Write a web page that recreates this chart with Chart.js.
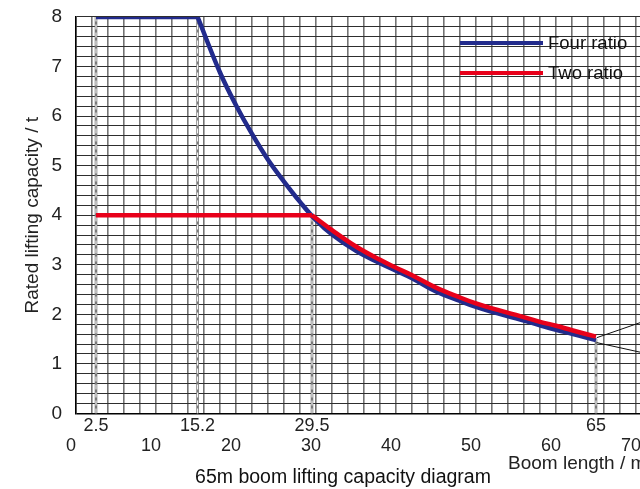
<!DOCTYPE html>
<html><head><meta charset="utf-8">
<script src="https://cdn.jsdelivr.net/npm/chart.js@4"></script>
<style>
html,body{margin:0;padding:0;background:#fff;overflow:hidden;width:640px;height:489px;}
#wrap{position:relative;width:686px;height:489px;}
</style></head><body>
<div id="wrap"><canvas id="c"></canvas></div>
<script>
// ---- data ----
const fourRatioFlatX = [2.5, 15.2];
const fourRatioFlatY = [8, 8];
const fourRatioX = [15.2, 18, 20, 22, 24, 26, 28, 30, 32, 35, 38, 40, 42, 45, 48, 50, 52, 55, 58, 60, 62, 65];
const fourRatioY = [8, 6.88, 6.22, 5.64, 5.12, 4.68, 4.27, 3.9, 3.61, 3.28, 3.03, 2.88, 2.73, 2.46, 2.27, 2.15, 2.05, 1.92, 1.78, 1.69, 1.61, 1.48];
const twoRatioFlatX = [2.5, 29.5];
const twoRatioFlatY = [4, 4];
const twoRatioX = [29.5, 32, 35, 38, 40, 42, 45, 48, 50, 52, 55, 58, 60, 62, 65];
const twoRatioY = [4, 3.7, 3.37, 3.1, 2.94, 2.79, 2.54, 2.34, 2.22, 2.12, 1.99, 1.85, 1.77, 1.68, 1.55];
const seriesNames = ['Four ratio', 'Two ratio'];
const markX = [2.5, 15.2, 29.5, 65];          // special boom lengths (dashed lines + tick labels)
const markTop = [8, 8, 4, 1.5];               // height each dashed line reaches
const markLabels = ['2.5', '15.2', '29.5', '65'];
const leaderUpperX = [65.1, 71], leaderUpperY = [1.53, 1.86];
const leaderLowerX = [65.1, 71], leaderLowerY = [1.43, 1.22];
const xMainLabels = [0, 10, 20, 30, 40, 50, 60, 70];
const yLabels = [0, 1, 2, 3, 4, 5, 6, 7, 8];
const xTitle = 'Boom length / m';
const yTitle = 'Rated lifting capacity / t';
const caption = '65m boom lifting capacity diagram';

const pts = (xs, ys) => xs.map((x, i) => ({x: x, y: ys[i]}));

const BLUE = '#222b8c', RED = '#e8001a';
const FONT = 'Liberation Sans, Arial, sans-serif';
Chart.defaults.font.family = FONT;
Chart.defaults.font.size = 18;
Chart.defaults.color = '#222';

const lineBase = {borderWidth: 4.5, pointRadius: 0, borderJoinStyle: 'round', borderCapStyle: 'butt'};
const datasets = [];
datasets.push(Object.assign({label: seriesNames[1], legend: true, legendOrder: 1, data: pts(twoRatioX, twoRatioY), borderColor: RED, tension: 0.4, order: 0}, lineBase));
datasets.push(Object.assign({label: seriesNames[1] + ' flat', data: pts(twoRatioFlatX, twoRatioFlatY), borderColor: RED, tension: 0, order: 0}, lineBase));
datasets.push(Object.assign({label: seriesNames[0], legend: true, legendOrder: 0, data: pts(fourRatioX, fourRatioY), borderColor: BLUE, tension: 0.4, order: 1}, lineBase));
datasets.push(Object.assign({label: seriesNames[0] + ' flat', data: pts(fourRatioFlatX, fourRatioFlatY), borderColor: BLUE, tension: 0, order: 1}, lineBase));
markX.forEach((x, i) => {
  datasets.push({label: 'm' + i, data: [{x: x, y: 0}, {x: x, y: markTop[i]}], borderColor: '#7a7a7a', borderWidth: 2.6, pointRadius: 0, order: 6});
  datasets.push({label: 'w' + i, data: [{x: x, y: 0}, {x: x, y: markTop[i]}], borderColor: '#ffffff', borderWidth: 1, borderDash: [5, 3], pointRadius: 0, order: 5});
});
datasets.push({label: 'l1', data: pts(leaderUpperX, leaderUpperY), borderColor: '#111', borderWidth: 1, pointRadius: 0, order: 4});
datasets.push({label: 'l2', data: pts(leaderLowerX, leaderLowerY), borderColor: '#111', borderWidth: 1, pointRadius: 0, order: 4});

const extraText = {
  id: 'extraText',
  afterDatasetsDraw(chart) {
    const ctx = chart.ctx;
    ctx.save();
    const items = chart.data.datasets.filter(d => d.legend).sort((a, b) => a.legendOrder - b.legendOrder);
    items.forEach((d, i) => {
      const y = 43 + i * 30;
      ctx.strokeStyle = d.borderColor;
      ctx.lineWidth = 4;
      ctx.beginPath(); ctx.moveTo(460, y); ctx.lineTo(543, y); ctx.stroke();
      ctx.fillStyle = '#111';
      ctx.font = '18.5px ' + FONT;
      ctx.textBaseline = 'middle';
      ctx.textAlign = 'left';
      ctx.fillText(d.label, 548, y + 1);
    });
    ctx.fillStyle = '#222';
    ctx.font = '19px ' + FONT;
    ctx.textBaseline = 'middle';
    ctx.textAlign = 'left';
    ctx.fillText(xTitle, 508, 464);
    ctx.restore();
  }
};

new Chart(document.getElementById('c'), {
  type: 'line',
  data: {datasets: datasets},
  options: {
    responsive: true, maintainAspectRatio: false, animation: false,
    layout: {padding: {top: 17, right: 0, left: 0, bottom: 0}},
    plugins: {
      legend: {display: false}, tooltip: {enabled: false},
      title: {display: true, text: caption, position: 'bottom', color: '#111', font: {size: 19.5, weight: 'normal', lineHeight: 1.2}, padding: {top: 10.5, bottom: 0}}
    },
    scales: {
      x: {
        type: 'linear', position: 'bottom', min: 0, max: 76.25, weight: 1,
        afterBuildTicks: s => { const t = []; for (let v = 0; v <= 76; v += 2) t.push({value: v}); s.ticks = t; },
        afterFit: s => { s.height = 18; s.paddingLeft = 0; s.paddingRight = 0; },
        ticks: {autoSkip: false, maxRotation: 0, padding: 0, labelOffset: -5, font: {size: 18, lineHeight: 1},
          callback: v => xMainLabels.includes(v) ? String(v) : ''},
        grid: {color: '#737373', lineWidth: 1.6, drawTicks: false},
        border: {display: false}
      },
      x2: {
        type: 'linear', position: 'bottom', min: 0, max: 76.25, weight: 0,
        afterBuildTicks: s => { s.ticks = markX.map(v => ({value: v})); },
        afterFit: s => { s.height = 23.6; s.paddingLeft = 0; s.paddingRight = 0; },
        ticks: {autoSkip: false, maxRotation: 0, padding: 2, font: {size: 18, lineHeight: 1.2},
          callback: (v, i) => markLabels[i]},
        grid: {display: false, drawTicks: false},
        border: {display: false}
      },
      y: {
        type: 'linear', min: 0, max: 8,
        afterBuildTicks: s => { const t = []; for (let k = 0; k <= 40; k++) t.push({value: k / 5}); s.ticks = t; },
        afterFit: s => { s.width = 76; s.paddingTop = 0; s.paddingBottom = 0; },
        ticks: {autoSkip: false, padding: 14, font: {size: 19},
          callback: v => yLabels.includes(Math.round(v * 1000) / 1000) ? String(Math.round(v)) : ''},
        grid: {
          color: c => (c.tick && c.tick.value === 0) ? '#000' : '#2e2e2e',
          lineWidth: c => (c.tick && c.tick.value === 0) ? 1.6 : 1.1,
          drawTicks: false
        },
        border: {color: '#000', width: 1.5},
        title: {display: true, text: yTitle, font: {size: 19, lineHeight: 1.2}, padding: {top: 21.6, bottom: 0}, color: '#222'}
      }
    }
  },
  plugins: [extraText]
});
</script>
</body></html>
